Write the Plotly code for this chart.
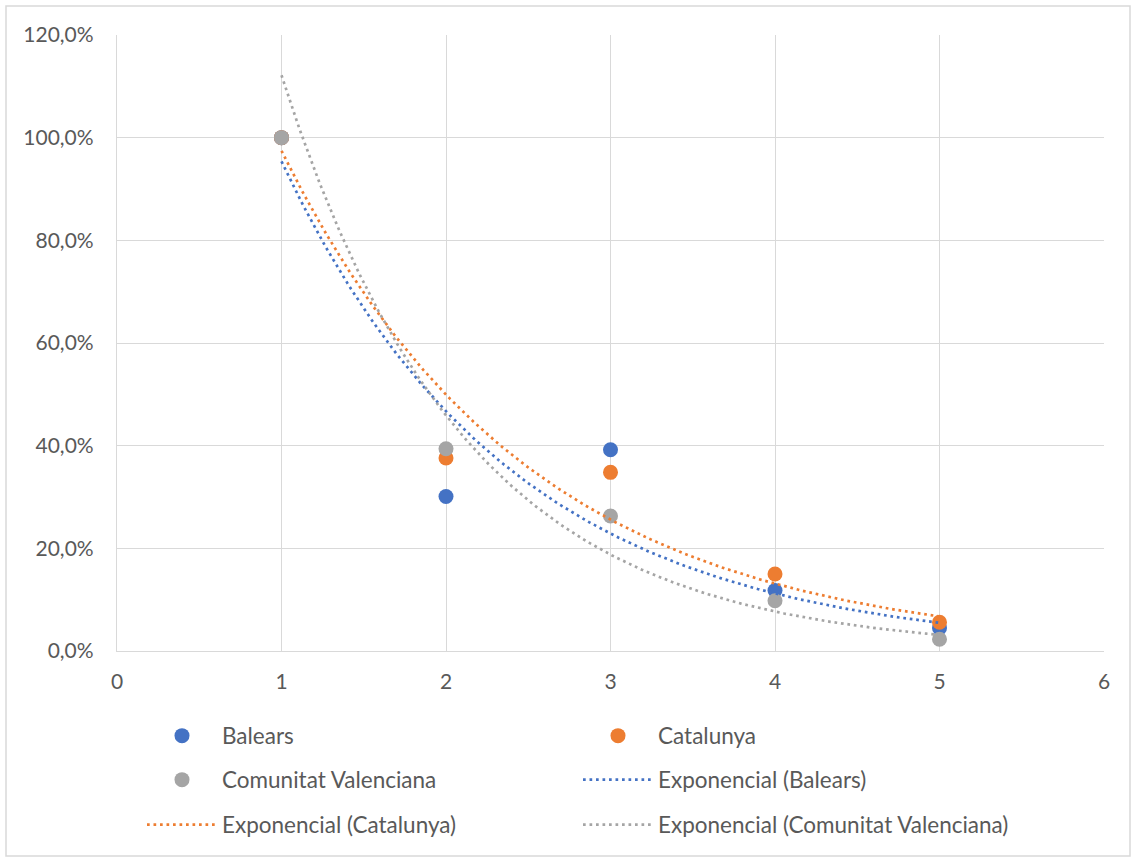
import numpy as np
import plotly.graph_objects as go

x_vals = [1, 2, 3, 4, 5]
balears = [1.000, 0.301, 0.392, 0.118, 0.045]
catalunya = [1.000, 0.376, 0.348, 0.150, 0.056]
valenciana = [1.000, 0.394, 0.263, 0.098, 0.023]

names = ["Balears", "Catalunya", "Comunitat Valenciana"]
colors = ["#4472C4", "#ED7D31", "#A5A5A5"]
series = [balears, catalunya, valenciana]

W, H = 1132, 857
L, R, T, B = 117, 28, 35, 206
pw, ph = W - L - R, H - T - B

def px2x(px):
    return (px - L) / pw

def py2y(py):
    return (H - B - py) / ph

FONT = "Lato"
TXT = "#595959"
GRID = "#D9D9D9"

fig = go.Figure()

marker_legends = ["legend", "legend", "legend2"]
for name, col, ys, lg in zip(names, colors, series, marker_legends):
    fig.add_trace(go.Scatter(
        x=x_vals, y=ys, mode="markers", name=name,
        marker=dict(color=col, size=15, line=dict(width=0)),
        legend=lg,
    ))

trend_legends = ["legend2", "legend3", "legend3"]
xs = np.linspace(min(x_vals), max(x_vals), 200)
for name, col, ys, lg in zip(names, colors, series, trend_legends):
    b, a = np.polyfit(x_vals, np.log(ys), 1)
    fig.add_trace(go.Scatter(
        x=xs, y=np.exp(a + b * xs), mode="lines",
        name=f"Exponencial ({name})",
        line=dict(color=col, width=2.7, dash="2.7px,3.8px"),
        legend=lg,
    ))

leg_common = dict(
    orientation="h", xanchor="left", yanchor="middle",
    font=dict(family=FONT, size=22.5, color=TXT),
    itemwidth=70, entrywidth=351, entrywidthmode="pixels",
    bgcolor="rgba(0,0,0,0)", borderwidth=0,
    tracegroupgap=0, itemclick=False,
)
lx = px2x(142)

fig.update_layout(
    width=W, height=H,
    margin=dict(l=L, r=R, t=T, b=B, autoexpand=False),
    paper_bgcolor="white", plot_bgcolor="white",
    separators=",.",
    font=dict(family=FONT, size=21, color=TXT),
    xaxis=dict(
        range=[0, 6], dtick=1, tick0=0, showgrid=True, gridcolor=GRID, gridwidth=1.3,
        showline=True, linecolor=GRID, linewidth=1.3, zeroline=False,
        ticks="", ticklabelstandoff=12,
        tickfont=dict(family=FONT, size=21, color=TXT),
    ),
    yaxis=dict(
        range=[0, 1.2], dtick=0.2, tick0=0, tickformat=".1%",
        showgrid=True, gridcolor=GRID, gridwidth=1.3,
        showline=True, linecolor=GRID, linewidth=1.3, zeroline=False,
        ticks="", ticklabelstandoff=18,
        tickfont=dict(family=FONT, size=21, color=TXT),
    ),
    legend=dict(x=lx, y=py2y(736), **leg_common),
    legend2=dict(x=lx, y=py2y(780), **leg_common),
    legend3=dict(x=lx, y=py2y(825), **leg_common),
    shapes=[dict(
        type="rect", xref="paper", yref="paper",
        x0=px2x(6), x1=px2x(1130), y0=py2y(856), y1=py2y(6),
        line=dict(color=GRID, width=1.5), fillcolor="rgba(0,0,0,0)", layer="below",
    )],
)

fig.write_html("out.html")
